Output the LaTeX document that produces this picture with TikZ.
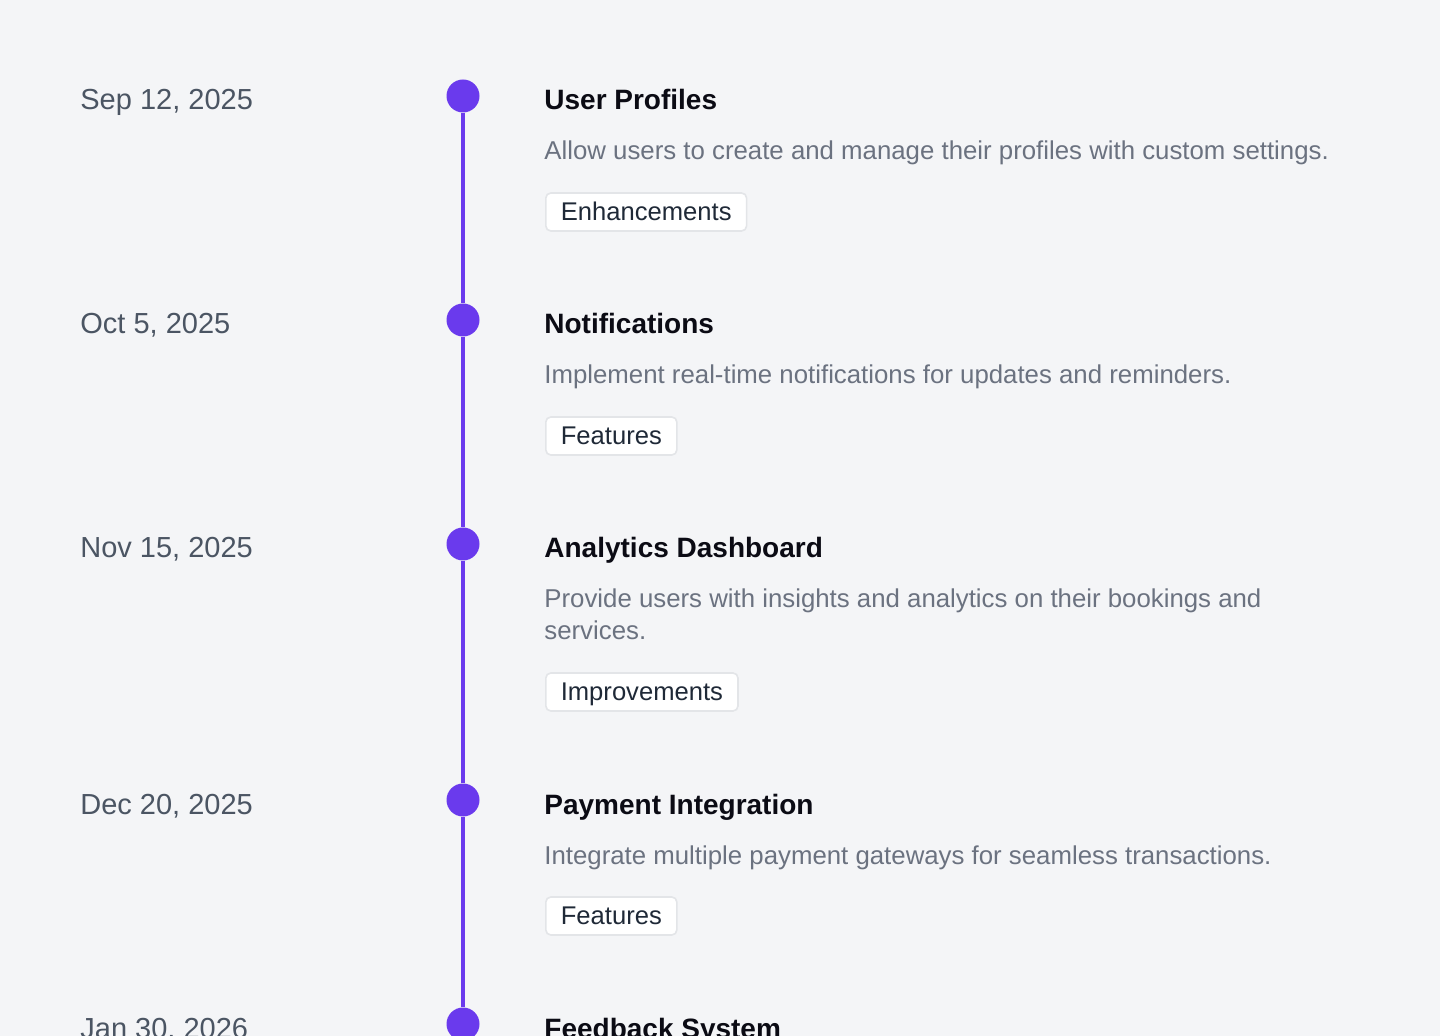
\documentclass[tikz,border=0pt]{standalone}
\usepackage{fontspec}
\setmainfont{Liberation Sans}
\definecolor{bgpage}{HTML}{F4F5F7}
\definecolor{violetline}{HTML}{6A3AED}
\definecolor{dategray}{HTML}{4B5563}
\definecolor{titleink}{HTML}{0B0B14}
\definecolor{descgray}{HTML}{6B7280}
\definecolor{tagink}{HTML}{1F2937}
\definecolor{tagborder}{HTML}{E3E5E8}
\tikzset{
  datelabel/.style={anchor=base west, inner sep=0pt, text=dategray, font=\fontsize{14.5}{17}\selectfont},
  titlelabel/.style={anchor=base west, inner sep=0pt, text=titleink, font=\fontsize{14}{17}\selectfont\bfseries},
  desclabel/.style={anchor=base west, inner sep=0pt, align=left, text=descgray, font=\fontsize{12.9}{16}\selectfont},
  tagbox/.style={anchor=west, draw=tagborder, line width=0.8pt, fill=white, rounded corners=2.5pt,
    text=tagink, font=\fontsize{12.8}{15}\selectfont, inner xsep=7.5pt, inner ysep=0pt,
    text height=10pt, text depth=1.5pt, minimum height=19pt},
  dot/.style={circle, fill=violetline, inner sep=0pt, minimum size=16.5pt}
}
\begin{document}
\begin{tikzpicture}[x=0.5pt, y=-0.5pt]
    \fill[bgpage] (0,0) rectangle (1440,1036);
    \useasboundingbox (0,0) rectangle (1440,1036);
    \clip (0,0) rectangle (1440,1036);
    % dots on the timeline
    \node[dot] (d1) at (463,96) {};
    \node[dot] (d2) at (463,320) {};
    \node[dot] (d3) at (463,544) {};
    \node[dot] (d4) at (463,800) {};
    \node[dot] (d5) at (463,1024) {};
    \foreach \a/\b in {d1/d2,d2/d3,d3/d4,d4/d5}
        \draw[violetline, line width=2pt] (\a) -- (\b);
    % dates
    \node[datelabel] (date1) at (80,110) {Sep 12, 2025};
    \node[datelabel] (date2) at (80,334) {Oct 5, 2025};
    \node[datelabel] (date3) at (80,558) {Nov 15, 2025};
    \node[datelabel] (date4) at (80,814) {Dec 20, 2025};
    \node[datelabel] (date5) at (80,1038) {Jan 30, 2026};
    % titles
    \node[titlelabel] (title1) at (544,110) {User Profiles};
    \node[titlelabel] (title2) at (544,334) {Notifications};
    \node[titlelabel] (title3) at (544,558) {Analytics Dashboard};
    \node[titlelabel] (title4) at (544,814) {Payment Integration};
    \node[titlelabel] (title5) at (544,1038) {Feedback System};
    % descriptions (base = last line)
    \node[desclabel] (desc1) at (544,160) {Allow users to create and manage their profiles with custom settings.};
    \node[desclabel] (desc2) at (544,384) {Implement real-time notifications for updates and reminders.};
    \node[desclabel] (desc3) at (544,640) {Provide users with insights and analytics on their bookings and\\services.};
    \node[desclabel] (desc4) at (544,864) {Integrate multiple payment gateways for seamless transactions.};
    % tags
    \node[tagbox] (tag1) at (545,212) {Enhancements};
    \node[tagbox] (tag2) at (545,436) {Features};
    \node[tagbox] (tag3) at (545,692) {Improvements};
    \node[tagbox] (tag4) at (545,916) {Features};
\end{tikzpicture}
\end{document}
